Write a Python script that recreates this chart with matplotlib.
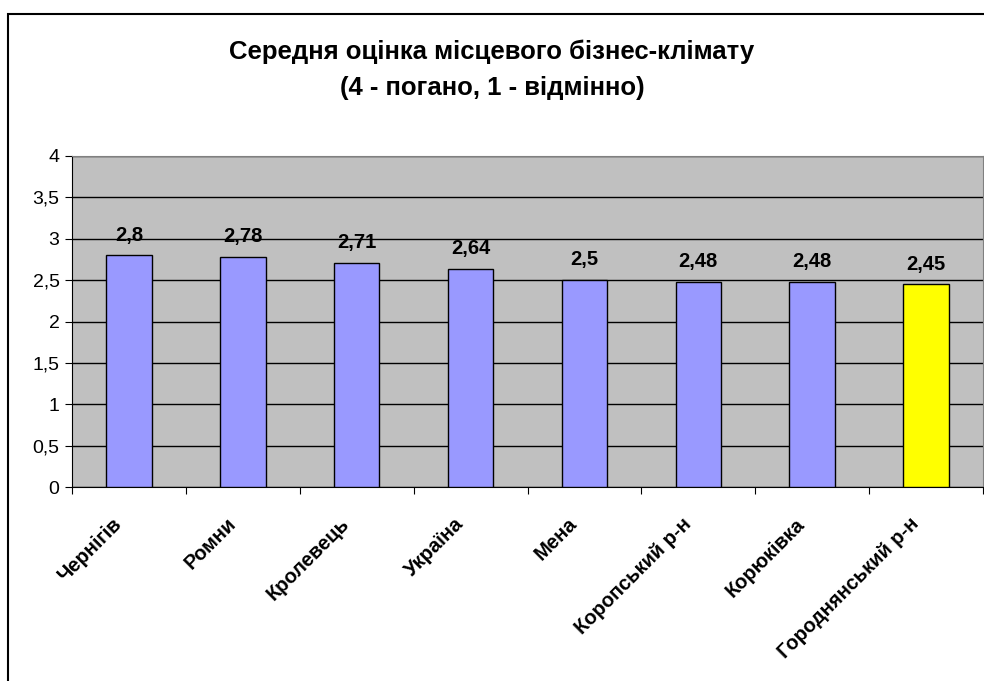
import matplotlib.pyplot as plt
import matplotlib.transforms as mtransforms
from matplotlib.patches import Rectangle

# дані
regions = ["Чернігів", "Ромни", "Кролевець", "Україна", "Мена",
           "Коропський р-н", "Корюківка", "Городнянський р-н"]
scores = [2.8, 2.78, 2.71, 2.64, 2.5, 2.48, 2.48, 2.45]
bar_colors = ["#9999FF"] * 7 + ["#FFFF00"]

plt.rcParams['font.family'] = ['Liberation Sans', 'DejaVu Sans']

fig = plt.figure(figsize=(9.84, 6.81), dpi=100)
ax = fig.add_axes([72 / 984, 1 - 487 / 681, 911 / 984, 331 / 681])

# рамка навколо діаграми (видно лише верх і ліву сторону)
top = 1 - 13.5 / 681
fig.patches.append(Rectangle((7.5 / 984, -0.05), 2, top + 0.05, transform=fig.transFigure,
                             fill=False, edgecolor='black', linewidth=1.5))

ax.set_facecolor('#C0C0C0')
x = range(len(regions))
ax.bar(x, scores, width=0.4, color=bar_colors, edgecolor='black', linewidth=1, zorder=3)

for i, v in enumerate(scores):
    ax.annotate(f"{v:g}".replace('.', ','), (i, v), xytext=(0, 14.5),
                textcoords='offset points', ha='center', va='center',
                fontsize=14.5, fontweight='bold')

ax.set_ylim(0, 4)
ax.set_xlim(-0.5, len(regions) - 0.5)
yt = [i * 0.5 for i in range(9)]
ax.set_yticks(yt)
ax.set_yticklabels([f"{t:g}".replace('.', ',') for t in yt], fontsize=14)
ax.yaxis.grid(True, color='black', linewidth=1, zorder=0)
ax.set_axisbelow(True)

ax.set_xticks([i - 0.5 for i in range(len(regions) + 1)])
ax.set_xticklabels([])
ax.tick_params(axis='x', length=5, direction='out')
ax.tick_params(axis='y', length=5, direction='out', pad=4)

# підписи категорій під кутом 45°
trans = ax.get_xaxis_transform() + mtransforms.ScaledTranslation(-10 / 100, -34 / 100, fig.dpi_scale_trans)
for i, name in enumerate(regions):
    ax.text(i, 0, name, transform=trans, rotation=45, rotation_mode='anchor',
            ha='right', va='center', fontsize=14.5, fontweight='bold')

for s in ['top', 'right']:
    ax.spines[s].set_color('#808080')
for s in ['left', 'bottom']:
    ax.spines[s].set_color('black')

fig.text(0.5, 1 - 52 / 681, "Середня оцінка місцевого бізнес-клімату",
         ha='center', va='center', fontsize=18.5, fontweight='bold')
fig.text(0.5, 1 - 88 / 681, "(4 - погано, 1 - відмінно)",
         ha='center', va='center', fontsize=18.5, fontweight='bold')

fig.savefig("out.png", dpi=100)
